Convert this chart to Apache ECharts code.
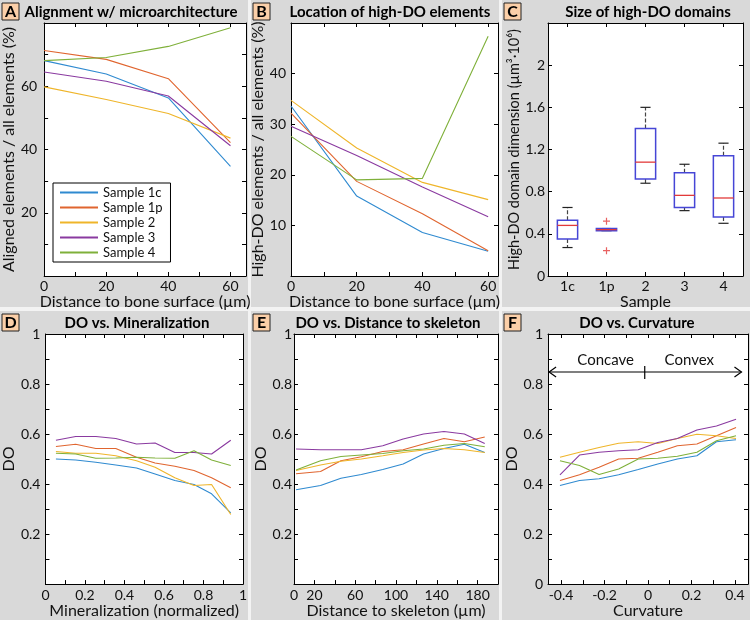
<!DOCTYPE html>
<html>
<head>
<meta charset="utf-8">
<title>High-DO elements</title>
<script src="https://cdn.jsdelivr.net/npm/echarts@6/dist/echarts.min.js"></script>
<style>
  html, body { margin: 0; padding: 0; background: #f3f3f3; }
  #main { width: 750px; height: 620px; }
</style>
</head>
<body>
<div id="main"></div>
<script>
// ---- data ----
var sampleNames = ['Sample 1c', 'Sample 1p', 'Sample 2', 'Sample 3', 'Sample 4'];

// A: aligned elements vs distance to bone surface
var aDist = [0, 20, 40, 60];
var a1c = [68.1, 63.9, 56.3, 34.7];
var a1p = [71.3, 68.5, 62.4, 42.2];
var a2  = [59.8, 55.8, 51.4, 43.6];
var a3  = [64.5, 61.6, 56.9, 41.2];
var a4  = [68.1, 69.1, 72.6, 78.5];

// B: high-DO elements vs distance to bone surface
var bDist = [0, 20, 40, 60];
var b1c = [33.6, 15.8, 8.6, 4.9];
var b1p = [32.2, 18.7, 12.3, 5.0];
var b2  = [34.7, 25.3, 18.5, 15.1];
var b3  = [29.6, 23.8, 17.6, 11.7];
var b4  = [27.6, 19.0, 19.3, 47.4];

// C: size of high-DO domains, [min, q1, median, q3, max]
var boxCats = ['1c', '1p', '2', '3', '4'];
var boxStats = [
  [0.27, 0.35, 0.48, 0.53, 0.65],
  [0.43, 0.43, 0.44, 0.45, 0.45],
  [0.88, 0.92, 1.08, 1.40, 1.60],
  [0.62, 0.65, 0.765, 0.98, 1.06],
  [0.50, 0.56, 0.74, 1.14, 1.26]
];
var boxOutliers = [['1p', 0.52], ['1p', 0.24]];

// D: DO vs mineralization
var dMin = [0.053, 0.153, 0.255, 0.356, 0.461, 0.555, 0.655, 0.752, 0.841, 0.938];
var d1c = [0.500, 0.496, 0.487, 0.476, 0.464, 0.440, 0.414, 0.398, 0.361, 0.285];
var d1p = [0.550, 0.559, 0.542, 0.542, 0.507, 0.484, 0.471, 0.454, 0.425, 0.385];
var d2  = [0.530, 0.523, 0.523, 0.513, 0.493, 0.467, 0.425, 0.394, 0.398, 0.278];
var d3  = [0.575, 0.590, 0.590, 0.582, 0.560, 0.564, 0.526, 0.526, 0.520, 0.575];
var d4  = [0.523, 0.520, 0.503, 0.504, 0.507, 0.504, 0.503, 0.533, 0.496, 0.474];

// E: DO vs distance to skeleton
var eDist = [2, 26, 46, 66, 87, 107, 127, 147, 167, 187];
var e1c = [0.377, 0.394, 0.423, 0.438, 0.458, 0.480, 0.520, 0.542, 0.559, 0.526];
var e1p = [0.441, 0.450, 0.493, 0.509, 0.530, 0.537, 0.560, 0.582, 0.569, 0.588];
var e2  = [0.454, 0.476, 0.491, 0.500, 0.513, 0.526, 0.536, 0.542, 0.537, 0.526];
var e3  = [0.540, 0.537, 0.537, 0.537, 0.553, 0.580, 0.600, 0.610, 0.600, 0.562];
var e4  = [0.456, 0.493, 0.510, 0.516, 0.522, 0.533, 0.540, 0.555, 0.562, 0.549];

// F: DO vs curvature
var fCurv = [-0.405, -0.315, -0.225, -0.135, -0.045, 0.045, 0.135, 0.225, 0.315, 0.405];
var f1c = [0.394, 0.414, 0.421, 0.437, 0.458, 0.480, 0.500, 0.513, 0.569, 0.577];
var f1p = [0.414, 0.437, 0.467, 0.500, 0.503, 0.527, 0.553, 0.560, 0.593, 0.626];
var f2  = [0.507, 0.527, 0.546, 0.563, 0.569, 0.562, 0.582, 0.599, 0.593, 0.582];
var f3  = [0.437, 0.516, 0.527, 0.533, 0.537, 0.566, 0.582, 0.616, 0.632, 0.659];
var f4  = [0.493, 0.474, 0.438, 0.460, 0.500, 0.503, 0.511, 0.527, 0.573, 0.593];

// tick positions / labels
var tickA = [0, 10, 20, 30, 40, 50, 60];
var labA = [0, 20, 40, 60];
var yTickA = [0, 10, 20, 30, 40, 50, 60, 70, 80];
var yLabA = [20, 40, 60];
var yTickB = [0, 10, 20, 30, 40, 50];
var yLabB = [10, 20, 30, 40];
var yTickC = [0, 0.4, 0.8, 1.2, 1.6, 2, 2.4];
var yLabC = [0, 0.4, 0.8, 1.2, 1.6, 2];
var tickDO = [0, 0.1, 0.2, 0.3, 0.4, 0.5, 0.6, 0.7, 0.8, 0.9, 1];
var labDO = [0.2, 0.4, 0.6, 0.8, 1];
var labDOzero = [0, 0.2, 0.4, 0.6, 0.8, 1];
var tickD = [0, 0.1, 0.2, 0.3, 0.4, 0.5, 0.6, 0.7, 0.8, 0.9, 1];
var labD = [0, 0.2, 0.4, 0.6, 0.8, 1];
var tickE = [0, 20, 40, 60, 80, 100, 120, 140, 160, 180, 200];
var labE = [0, 20, 60, 100, 140, 180];
var tickF = [-0.4, -0.3, -0.2, -0.1, 0, 0.1, 0.2, 0.3, 0.4];
var labF = [-0.4, -0.2, 0, 0.2, 0.4];

var colors = ['#2f8ad0', '#e0652f', '#efb52a', '#8a3aa0', '#7fb03a'];
var FONT = 'Lato, "Open Sans", sans-serif';

var chart = echarts.init(document.getElementById('main'));

var grids = [
  { left: 37, top: 23, width: 209, height: 253 },
  { left: 291, top: 23, width: 207, height: 253 },
  { left: 548, top: 23, width: 195, height: 253 },
  { left: 37, top: 334, width: 206, height: 252 },
  { left: 294, top: 334, width: 204, height: 252 },
  { left: 548, top: 334, width: 200, height: 252 }
];
grids.forEach(function (g) { g.show = true; g.backgroundColor = '#fff'; g.borderWidth = 0; });

function valueAxis(gi, pos, o) {
  var main = (pos === 'bottom' || pos === 'left');
  return {
    type: 'value', gridIndex: gi, position: pos, min: o.min, max: o.max,
    axisLine: { show: true, onZero: false, lineStyle: { color: '#000', width: 1 } },
    axisTick: { show: true, inside: true, length: 4, customValues: o.ticks, lineStyle: { color: '#000' } },
    axisLabel: main ? { customValues: o.labels, fontSize: 14, color: '#111', fontFamily: FONT, margin: o.margin } : { show: false },
    splitLine: { show: false },
    name: main ? o.name : '',
    nameLocation: 'middle', nameGap: o.nameGap,
    nameTextStyle: { fontSize: o.nameSize || 16, color: '#111', fontFamily: FONT }
  };
}

function catAxis(gi, pos, o) {
  var main = pos === 'bottom';
  return {
    type: 'category', gridIndex: gi, position: pos, data: o.data, boundaryGap: true,
    axisLine: { show: true, onZero: false, lineStyle: { color: '#000', width: 1 } },
    axisTick: { show: true, inside: true, length: 4, alignWithLabel: true, lineStyle: { color: '#000' } },
    axisLabel: main ? { fontSize: 14, color: '#111', fontFamily: FONT, margin: o.margin } : { show: false },
    splitLine: { show: false },
    name: main ? o.name : '',
    nameLocation: 'middle', nameGap: o.nameGap,
    nameTextStyle: { fontSize: 16, color: '#111', fontFamily: FONT }
  };
}

var xCfg = [
  { min: 0, max: 65, ticks: tickA, labels: labA, name: 'Distance to bone surface (µm)', nameGap: 12, margin: 3 },
  { min: 0, max: 63, ticks: tickA, labels: labA, name: 'Distance to bone surface (µm)', nameGap: 12, margin: 3 },
  { data: boxCats, name: 'Sample', nameGap: 12, margin: 3 },
  { min: 0, max: 1, ticks: tickD, labels: labD, name: 'Mineralization (normalized)', nameGap: 14, margin: 4 },
  { min: 0, max: 200, ticks: tickE, labels: labE, name: 'Distance to skeleton (µm)', nameGap: 14, margin: 4 },
  { min: -0.46, max: 0.46, ticks: tickF, labels: labF, name: 'Curvature', nameGap: 14, margin: 4 }
];
var yCfg = [
  { min: 0, max: 80, ticks: yTickA, labels: yLabA, name: 'Aligned elements / all elements (%)', nameGap: 15, margin: 7 },
  { min: 0, max: 50, ticks: yTickB, labels: yLabB, name: 'High-DO elements / all elements (%)', nameGap: 18, margin: 5 },
  { min: 0, max: 2.4, ticks: yTickC, labels: yLabC, name: 'High-DO domain dimension (µm³·10⁶)', nameGap: 26, margin: 3, nameSize: 14.5 },
  { min: 0, max: 1, ticks: tickDO, labels: labDO, name: 'DO', nameGap: 17, margin: 5 },
  { min: 0, max: 1, ticks: tickDO, labels: labDO, name: 'DO', nameGap: 20, margin: 2 },
  { min: 0, max: 1, ticks: tickDO, labels: labDOzero, name: 'DO', nameGap: 22, margin: 5 }
];

var xAxes = [], yAxes = [];
for (var i = 0; i < 6; i++) {
  if (i === 2) {
    xAxes.push(catAxis(i, 'bottom', xCfg[i]), catAxis(i, 'top', xCfg[i]));
  } else {
    xAxes.push(valueAxis(i, 'bottom', xCfg[i]), valueAxis(i, 'top', xCfg[i]));
  }
  yAxes.push(valueAxis(i, 'left', yCfg[i]), valueAxis(i, 'right', yCfg[i]));
}

function pairs(xs, ys) {
  return xs.map(function (x, k) { return [x, ys[k]]; });
}

var series = [];
function addLines(gi, xs, sets) {
  sets.forEach(function (ys, k) {
    series.push({
      name: sampleNames[k], type: 'line', xAxisIndex: gi * 2, yAxisIndex: gi * 2,
      data: pairs(xs, ys), symbol: 'none', showSymbol: false,
      lineStyle: { width: 1.1, color: colors[k] }, itemStyle: { color: colors[k] },
      silent: true
    });
  });
}
addLines(0, aDist, [a1c, a1p, a2, a3, a4]);
addLines(1, bDist, [b1c, b1p, b2, b3, b4]);
addLines(3, dMin, [d1c, d1p, d2, d3, d4]);
addLines(4, eDist, [e1c, e1p, e2, e3, e4]);
addLines(5, fCurv, [f1c, f1p, f2, f3, f4]);

// box plot drawn through the axes of panel C
function renderBox(params, api) {
  var idx = api.value(0);
  var w = api.size([1, 0])[0] * 0.52;
  var pMin = api.coord([idx, api.value(1)]);
  var pQ1 = api.coord([idx, api.value(2)]);
  var pMed = api.coord([idx, api.value(3)]);
  var pQ3 = api.coord([idx, api.value(4)]);
  var pMax = api.coord([idx, api.value(5)]);
  var cx = pMed[0];
  var cap = w * 0.25;
  var whisk = { stroke: '#444', lineWidth: 1.2, lineDash: [4, 2] };
  var capSt = { stroke: '#222', lineWidth: 1.2 };
  return {
    type: 'group',
    children: [
      { type: 'line', shape: { x1: cx, y1: pQ3[1], x2: cx, y2: pMax[1] }, style: whisk },
      { type: 'line', shape: { x1: cx, y1: pQ1[1], x2: cx, y2: pMin[1] }, style: whisk },
      { type: 'line', shape: { x1: cx - cap, y1: pMax[1], x2: cx + cap, y2: pMax[1] }, style: capSt },
      { type: 'line', shape: { x1: cx - cap, y1: pMin[1], x2: cx + cap, y2: pMin[1] }, style: capSt },
      { type: 'rect', shape: { x: cx - w / 2, y: pQ3[1], width: w, height: Math.max(pQ1[1] - pQ3[1], 1) },
        style: { fill: 'none', stroke: '#4646d6', lineWidth: 1.5 } },
      { type: 'line', shape: { x1: cx - w / 2, y1: pMed[1], x2: cx + w / 2, y2: pMed[1] },
        style: { stroke: '#e23a3a', lineWidth: 1.3 } }
    ]
  };
}
series.push({
  type: 'custom', xAxisIndex: 4, yAxisIndex: 4,
  data: boxStats.map(function (s, k) { return [k].concat(s); }),
  encode: { x: 0, y: [1, 2, 3, 4, 5] },
  renderItem: renderBox, silent: true
});
series.push({
  type: 'scatter', xAxisIndex: 4, yAxisIndex: 4, data: boxOutliers,
  symbol: 'path://M5,0L5,10M0,5L10,5', symbolSize: 7,
  itemStyle: { color: 'rgba(0,0,0,0)', borderColor: '#e23a3a', borderWidth: 1.2 },
  silent: true
});

// panel backgrounds, letters and titles
var panels = [
  { x: 0, y: 0, w: 248, h: 307, letter: 'A', title: 'Alignment w/ microarchitecture', tx: 131 },
  { x: 251, y: 0, w: 248, h: 307, letter: 'B', title: 'Location of high-DO elements', tx: 390 },
  { x: 502, y: 0, w: 248, h: 307, letter: 'C', title: 'Size of high-DO domains', tx: 648 },
  { x: 0, y: 311, w: 248, h: 309, letter: 'D', title: 'DO vs. Mineralization', tx: 137 },
  { x: 251, y: 311, w: 248, h: 309, letter: 'E', title: 'DO vs. Distance to skeleton', tx: 388 },
  { x: 502, y: 311, w: 248, h: 309, letter: 'F', title: 'DO vs. Curvature', tx: 637 }
];
var graphic = [];
panels.forEach(function (p) {
  graphic.push({ type: 'rect', z: -100, shape: { x: p.x, y: p.y, width: p.w, height: p.h }, style: { fill: '#d9d9d9' } });
  graphic.push({ type: 'rect', z: 10, shape: { x: p.x + 2, y: p.y + 3, width: 17, height: 17 },
    style: { fill: '#fbcfa8', stroke: '#222', lineWidth: 1 } });
  graphic.push({ type: 'text', z: 11, x: p.x + 10.5, y: p.y + 12,
    style: { text: p.letter, font: 'bold 16px ' + FONT, fill: '#000', align: 'center', verticalAlign: 'middle' } });
  graphic.push({ type: 'text', z: 11, x: p.tx, y: p.y + 12,
    style: { text: p.title, font: 'bold 15px ' + FONT, fill: '#000', align: 'center', verticalAlign: 'middle' } });
});

var option = {
  animation: false,
  backgroundColor: '#f3f3f3',
  grid: grids,
  xAxis: xAxes,
  yAxis: yAxes,
  legend: {
    data: sampleNames, left: 53, top: 183, orient: 'vertical',
    icon: 'rect', itemWidth: 38, itemHeight: 2, itemGap: 0, padding: [2, 8, 2, 7],
    backgroundColor: '#fff', borderColor: '#000', borderWidth: 1,
    textStyle: { fontSize: 13, lineHeight: 15, color: '#111', fontFamily: FONT }
  },
  graphic: graphic,
  series: series
};
chart.setOption(option);

// Concave / Convex arrow annotation in panel F (placed in data coordinates)
var arrowY = 0.848, arrowX0 = -0.455, arrowX1 = 0.43, midX = -0.015;
var px0 = chart.convertToPixel({ xAxisIndex: 10 }, arrowX0);
var px1 = chart.convertToPixel({ xAxisIndex: 10 }, arrowX1);
var pxm = chart.convertToPixel({ xAxisIndex: 10 }, midX);
var py = chart.convertToPixel({ yAxisIndex: 10 }, arrowY);
var pyt = chart.convertToPixel({ yAxisIndex: 10 }, 0.895);
var arrowSt = { stroke: '#000', lineWidth: 1.2, fill: null };
graphic.push(
  { type: 'line', z: 12, shape: { x1: px0, y1: py, x2: px1, y2: py }, style: arrowSt },
  { type: 'polyline', z: 12, shape: { points: [[px0 + 7, py - 5], [px0, py], [px0 + 7, py + 5]] }, style: arrowSt },
  { type: 'polyline', z: 12, shape: { points: [[px1 - 7, py - 5], [px1, py], [px1 - 7, py + 5]] }, style: arrowSt },
  { type: 'line', z: 12, shape: { x1: pxm, y1: py - 6, x2: pxm, y2: py + 7 }, style: arrowSt },
  { type: 'text', z: 12, x: chart.convertToPixel({ xAxisIndex: 10 }, -0.195), y: pyt,
    style: { text: 'Concave', font: '15px ' + FONT, fill: '#111', align: 'center', verticalAlign: 'middle' } },
  { type: 'text', z: 12, x: chart.convertToPixel({ xAxisIndex: 10 }, 0.19), y: pyt,
    style: { text: 'Convex', font: '15px ' + FONT, fill: '#111', align: 'center', verticalAlign: 'middle' } }
);
chart.setOption({ graphic: graphic });
</script>
</body>
</html>
